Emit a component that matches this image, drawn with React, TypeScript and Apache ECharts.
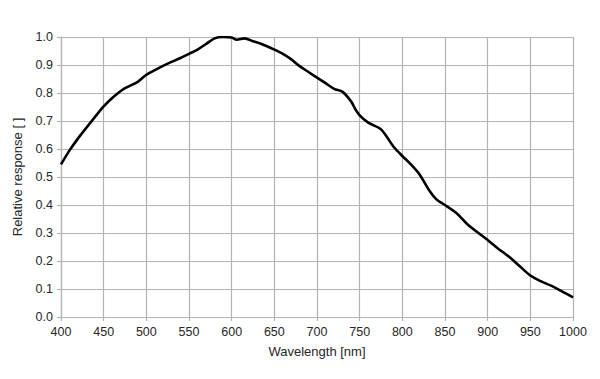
import React, { useEffect, useRef } from "react";
import * as echarts from "echarts";

const wavelengths = [400, 410, 420, 430, 440, 450, 460, 467, 475, 490, 500, 510, 525, 540, 550, 560, 570, 580, 590, 600, 606, 615, 625, 635, 650, 660, 670, 680, 690, 700, 710, 720, 730, 740, 745, 750, 760, 775, 790, 800, 810, 820, 832, 840, 850, 863, 875, 887, 900, 912, 925, 938, 950, 962, 975, 988, 1000];
const response = [0.545, 0.595, 0.638, 0.677, 0.715, 0.752, 0.782, 0.8, 0.817, 0.84, 0.865, 0.882, 0.905, 0.925, 0.94, 0.955, 0.975, 0.995, 1.0, 0.998, 0.99, 0.995, 0.985, 0.975, 0.955, 0.94, 0.92, 0.895, 0.875, 0.855, 0.835, 0.815, 0.804, 0.77, 0.742, 0.72, 0.694, 0.67, 0.607, 0.575, 0.545, 0.51, 0.45, 0.42, 0.40, 0.372, 0.335, 0.305, 0.275, 0.245, 0.215, 0.18, 0.148, 0.128, 0.111, 0.09, 0.07];

const xTitle = "Wavelength [nm]";
const yTitle = "Relative response [ ]";

export default function App() {
  const ref = useRef<HTMLDivElement>(null);
  useEffect(() => {
    if (!ref.current) return;
    const chart = echarts.init(ref.current, null, { renderer: "svg" });
    const font = "Liberation Sans, Arial, sans-serif";
    const grid = "#b4b4b4";
    const text = "#262626";
    chart.setOption({
      animation: false,
      backgroundColor: "#ffffff",
      grid: { left: 53, right: 19, top: 29, bottom: 54, containLabel: false, outerBoundsMode: "none" },
      xAxis: {
        type: "value",
        min: 400,
        max: 1000,
        interval: 50,
        name: xTitle,
        nameLocation: "middle",
        nameGap: 28,
        nameTextStyle: { color: text, fontSize: 13, fontFamily: font },
        axisLine: { show: true, lineStyle: { color: grid, width: 1.2 } },
        axisTick: { show: true, length: 4, lineStyle: { color: grid, width: 1.2 } },
        axisLabel: {
          color: text,
          fontSize: 12.5,
          fontFamily: font,
          margin: 8,
          formatter: (v: number) => String(v),
        },
        splitLine: { show: true, lineStyle: { color: grid, width: 1.2 } },
      },
      yAxis: {
        type: "value",
        min: 0,
        max: 1,
        interval: 0.1,
        name: yTitle,
        nameLocation: "middle",
        nameGap: 37,
        nameRotate: 90,
        nameTextStyle: { color: text, fontSize: 13, fontFamily: font },
        axisLine: { show: true, lineStyle: { color: grid, width: 1.2 } },
        axisTick: { show: true, length: 4, lineStyle: { color: grid, width: 1.2 } },
        axisLabel: {
          color: text,
          fontSize: 12.5,
          fontFamily: font,
          margin: 8,
          formatter: (v: number) => v.toFixed(1),
        },
        splitLine: { show: true, lineStyle: { color: grid, width: 1.2 } },
      },
      series: [
        {
          type: "line",
          data: wavelengths.map((w, i) => [w, response[i]]),
          showSymbol: false,
          smooth: 0.3,
          lineStyle: { color: "#000", width: 2.6 },
        },
      ],
    });
    return () => chart.dispose();
  }, []);
  return <div ref={ref} style={{ width: 584, height: 363 }} />;
}
